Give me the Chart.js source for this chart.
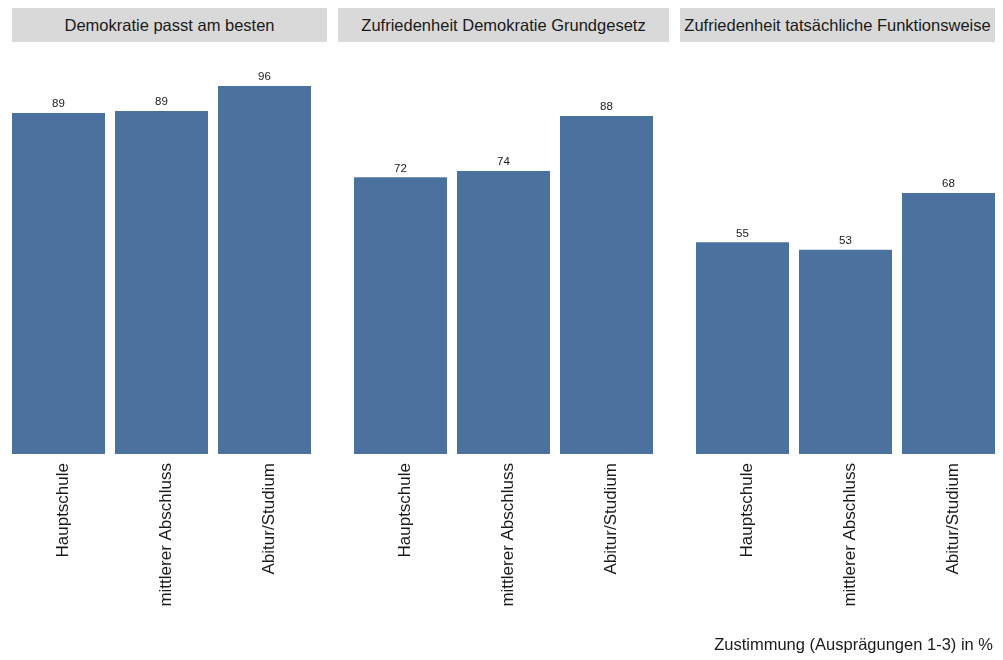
<!DOCTYPE html>
<html>
<head>
<meta charset="utf-8">
<script src="https://cdn.jsdelivr.net/npm/chart.js@4"></script>
<style>
  body { margin: 0; background: #fff; font-family: "Liberation Sans", Arial, sans-serif; }
  #wrap { position: relative; width: 1003px; height: 660px; overflow: hidden; }
  .strip { position: absolute; top: 8px; height: 34px; line-height: 34px; background: #d9d9d9;
           color: #1a1a1a; font-size: 16.5px; text-align: center; white-space: nowrap; }
  .panel { position: absolute; top: 0; width: 309px; height: 660px; }
  #caption { position: absolute; right: 10px; top: 635px; font-size: 16.5px; color: #1a1a1a; }
</style>
</head>
<body>
<div id="wrap">
  <div class="strip" style="left:12px;width:315px;">Demokratie passt am besten</div>
  <div class="strip" style="left:338px;width:331px;">Zufriedenheit Demokratie Grundgesetz</div>
  <div class="strip" style="left:680px;width:315px;">Zufriedenheit tatsächliche Funktionsweise</div>
  <div class="panel" style="left:7px;"><canvas id="c1"></canvas></div>
  <div class="panel" style="left:349px;"><canvas id="c2"></canvas></div>
  <div class="panel" style="left:691px;"><canvas id="c3"></canvas></div>
  <div id="caption">Zustimmung (Ausprägungen 1-3) in %</div>
</div>
<script>
const categories = ['Hauptschule', 'mittlerer Abschluss', 'Abitur/Studium'];
// values, labels show them rounded
const demokratiePasst = [88.7, 89.2, 95.7];
const zufriedenGrundgesetz = [72.0, 73.6, 87.9];
const zufriedenFunktion = [55.1, 53.1, 67.9];

const barColor = '#4b729f';

// draws the value above each bar
const valueLabels = {
  id: 'valueLabels',
  afterDatasetsDraw(chart) {
    const ctx = chart.ctx;
    const meta = chart.getDatasetMeta(0);
    ctx.save();
    ctx.font = '11.5px "Liberation Sans", Arial, sans-serif';
    ctx.fillStyle = '#1a1a1a';
    ctx.textAlign = 'center';
    ctx.textBaseline = 'bottom';
    meta.data.forEach((bar, i) => {
      ctx.fillText(Math.round(chart.data.datasets[0].data[i]), bar.x, bar.y - 3);
    });
    ctx.restore();
  }
};

function makePanel(id, values) {
  const ctx = document.getElementById(id).getContext('2d');
  new Chart(ctx, {
    type: 'bar',
    data: {
      labels: categories,
      datasets: [{
        data: values,
        backgroundColor: barColor,
        barPercentage: 93 / 103,
        categoryPercentage: 1
      }]
    },
    options: {
      responsive: true,
      maintainAspectRatio: false,
      animation: false,
      layout: { padding: { top: 454 - 384.5, left: 0, right: 0, bottom: 0 } },
      plugins: { legend: { display: false }, tooltip: { enabled: false } },
      scales: {
        x: {
          grid: { display: false },
          border: { display: false },
          ticks: {
            minRotation: 90,
            maxRotation: 90,
            padding: 1,
            labelOffset: 5,
            color: '#1a1a1a',
            font: { size: 17, family: '"Liberation Sans", Arial, sans-serif' }
          },
          afterFit(axis) { axis.height = 660 - 454; }
        },
        y: {
          display: false,
          min: 0,
          max: 100
        }
      }
    },
    plugins: [valueLabels]
  });
}

makePanel('c1', demokratiePasst);
makePanel('c2', zufriedenGrundgesetz);
makePanel('c3', zufriedenFunktion);
</script>
</body>
</html>
